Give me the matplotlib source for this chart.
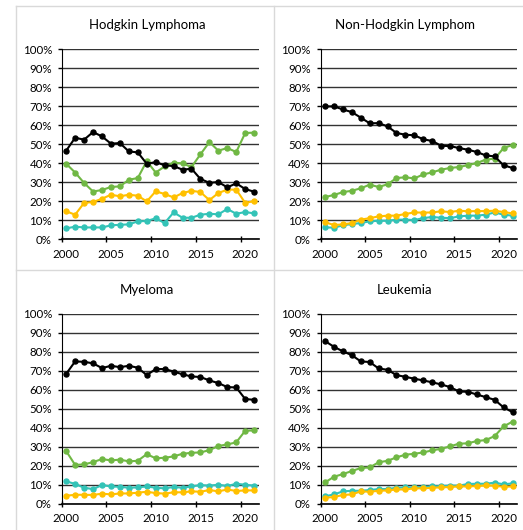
import numpy as np
import matplotlib
matplotlib.use("Agg")
import matplotlib.pyplot as plt
from matplotlib.lines import Line2D
from matplotlib.ticker import FixedLocator, PercentFormatter

plt.rcParams['font.family'] = ['Lato', 'DejaVu Sans']

years = np.arange(2000, 2022)
titles = ["Hodgkin Lymphoma", "Non-Hodgkin Lymphom", "Myeloma", "Leukemia"]
colors = {"black": "#000000", "green": "#70B844", "yellow": "#FFC000", "teal": "#33C3B7"}

# Hodgkin Lymphoma
hl_black = [46.5, 53.3, 52.3, 56.3, 54.0, 50.2, 50.5, 46.1, 45.6, 39.6, 40.5, 38.8, 38.4, 36.5, 37.0, 31.6, 29.6, 30.0, 27.2, 29.3, 26.3, 24.9]
hl_green = [39.6, 35.0, 29.5, 25.0, 25.8, 27.4, 27.7, 31.2, 32.1, 41.0, 35.0, 38.2, 40.2, 39.8, 37.9, 44.6, 51.0, 46.5, 47.9, 45.8, 55.8, 56.0]
hl_yellow = [14.6, 12.8, 19.0, 19.5, 21.2, 23.3, 22.5, 23.3, 22.8, 19.8, 25.1, 23.7, 21.9, 24.2, 25.4, 24.7, 20.5, 24.2, 26.0, 26.0, 19.0, 20.0]
hl_teal = [5.6, 6.5, 6.1, 6.1, 6.1, 7.2, 7.5, 7.7, 9.3, 9.5, 10.9, 8.4, 14.0, 11.2, 11.2, 12.8, 13.3, 13.0, 15.8, 13.3, 14.2, 13.5]

# Non-Hodgkin Lymphoma
nhl_black = [69.8, 69.8, 68.2, 66.8, 63.9, 60.9, 61.0, 59.3, 55.8, 54.9, 54.6, 52.5, 51.6, 49.1, 48.9, 47.9, 47.0, 45.8, 44.0, 43.5, 38.8, 37.4]
nhl_green = [22.1, 23.2, 24.7, 25.4, 26.7, 28.6, 27.4, 28.8, 32.1, 32.5, 31.9, 34.0, 35.1, 36.5, 37.4, 37.9, 38.9, 40.0, 41.8, 42.3, 47.9, 49.5]
nhl_yellow = [8.8, 7.4, 7.7, 8.4, 10.2, 11.0, 11.9, 12.3, 12.3, 13.2, 14.0, 13.9, 14.0, 14.6, 14.2, 14.9, 14.6, 14.7, 14.7, 14.9, 14.2, 13.5]
nhl_teal = [6.1, 6.0, 7.2, 7.9, 8.4, 9.3, 9.6, 9.6, 10.2, 10.2, 10.0, 11.0, 11.6, 11.2, 11.0, 11.9, 12.3, 12.3, 12.8, 14.0, 12.8, 12.3]

# Myeloma
my_black = [68.4, 74.9, 74.7, 73.9, 71.4, 72.6, 71.9, 72.6, 71.6, 67.7, 70.9, 70.9, 69.6, 68.1, 67.0, 66.7, 64.9, 63.5, 61.4, 61.2, 55.1, 54.7]
my_green = [27.7, 20.4, 20.7, 21.9, 23.5, 22.8, 23.2, 22.3, 22.6, 26.1, 23.9, 24.2, 24.9, 26.3, 26.8, 27.0, 28.2, 30.4, 31.2, 32.3, 38.4, 38.6]
my_yellow = [4.2, 4.7, 4.7, 4.6, 5.3, 4.9, 5.4, 5.4, 5.8, 6.3, 5.6, 5.3, 6.0, 6.0, 6.5, 6.3, 7.2, 6.5, 7.5, 6.7, 7.0, 7.0]
my_teal = [11.8, 10.4, 8.4, 7.7, 9.8, 9.1, 8.9, 8.4, 8.6, 9.1, 8.4, 8.1, 8.8, 8.4, 9.1, 9.8, 9.5, 10.0, 9.3, 10.5, 10.0, 9.5]

# Leukemia
lk_black = [85.6, 82.6, 80.2, 78.2, 74.9, 74.6, 71.2, 70.5, 67.7, 66.8, 65.8, 64.9, 63.9, 62.8, 61.4, 59.1, 58.9, 57.5, 56.1, 54.7, 50.7, 48.2]
lk_green = [11.2, 14.2, 15.6, 17.2, 18.8, 19.1, 21.8, 22.6, 24.4, 25.8, 26.3, 27.0, 28.1, 28.9, 30.2, 31.6, 31.8, 33.0, 33.5, 35.6, 40.7, 43.2]
lk_yellow = [3.2, 3.5, 4.6, 4.9, 6.5, 6.3, 6.8, 7.0, 7.5, 7.5, 8.1, 8.1, 8.4, 8.6, 8.8, 9.1, 9.1, 9.3, 9.6, 9.5, 8.9, 9.1]
lk_teal = [3.9, 4.9, 6.5, 6.8, 6.8, 7.2, 7.7, 7.7, 8.4, 8.6, 8.6, 8.9, 9.1, 9.3, 9.5, 9.5, 10.4, 10.5, 10.5, 11.1, 10.2, 10.7]

panels = [
    {"black": hl_black, "green": hl_green, "yellow": hl_yellow, "teal": hl_teal},
    {"black": nhl_black, "green": nhl_green, "yellow": nhl_yellow, "teal": nhl_teal},
    {"black": my_black, "green": my_green, "yellow": my_yellow, "teal": my_teal},
    {"black": lk_black, "green": lk_green, "yellow": lk_yellow, "teal": lk_teal},
]

fig = plt.figure(figsize=(5.23, 5.30), dpi=100)

# axes boxes in figure fractions (left, bottom, width, height)
boxes = [
    (0.118, 0.549, 0.3765, 0.3585),
    (0.613, 0.549, 0.3755, 0.3585),
    (0.118, 0.0496, 0.3765, 0.3584),
    (0.613, 0.0496, 0.3755, 0.3584),
]
title_pos = [(0.281, 0.953), (0.774, 0.953), (0.281, 0.453), (0.774, 0.453)]

for i in range(4):
    ax = fig.add_axes(boxes[i])
    d = panels[i]
    xs = years + 0.5
    for key in ["teal", "yellow", "green", "black"]:
        ax.plot(xs, d[key], color=colors[key], lw=1.5, marker='o', markersize=3.6, zorder=3)
    ax.set_xlim(2000, 2022)
    ax.set_ylim(0, 100)
    ax.set_yticks(np.arange(0, 101, 10))
    ax.yaxis.set_major_formatter(PercentFormatter(decimals=0))
    ax.grid(axis='y', color='#333333', lw=1.0)
    ax.set_axisbelow(True)
    # labels centred mid-year, tick marks on the year
    ax.set_xticks([2000.5, 2005.5, 2010.5, 2015.5, 2020.5])
    ax.set_xticklabels(["2000", "2005", "2010", "2015", "2020"])
    ax.xaxis.set_minor_locator(FixedLocator([2000, 2005, 2010, 2015, 2020]))
    ax.tick_params(axis='x', which='major', length=0, pad=7, labelsize=8.3, colors='#000000')
    ax.tick_params(axis='x', which='minor', length=5, direction='inout', width=1, color='#000000')
    ax.tick_params(axis='y', length=3, width=1, pad=4, labelsize=8.3, color='#000000', labelcolor='#000000')
    for s in ['top', 'right']:
        ax.spines[s].set_visible(False)
    ax.spines['left'].set_color('#000000')
    ax.spines['bottom'].set_color('#000000')
    ax.spines['bottom'].set_linewidth(1.2)
    ax.spines['bottom'].set_zorder(2.5)
    fig.text(title_pos[i][0], title_pos[i][1], titles[i], ha='center', va='center', fontsize=9.5)

# light grey chart-area borders
for x in [16 / 523, 274 / 523]:
    fig.add_artist(Line2D([x, x], [0, 1 - 6 / 530], color='#d9d9d9', lw=1))
for y in [1 - 6 / 530, 1 - 270 / 530]:
    fig.add_artist(Line2D([16 / 523, 1], [y, y], color='#d9d9d9', lw=1))

fig.savefig("out.png", dpi=100)
